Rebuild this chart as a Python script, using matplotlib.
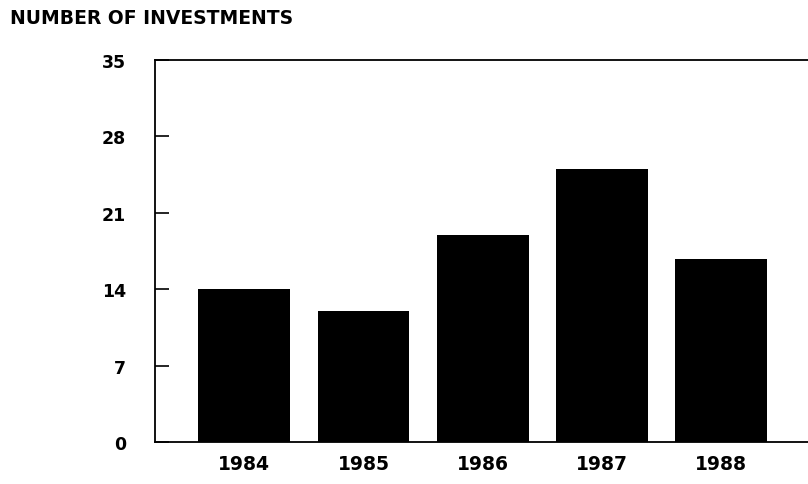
import matplotlib.pyplot as plt

# datos
anios = ['1984', '1985', '1986', '1987', '1988']
inversiones = [14, 12, 19, 25, 16.8]
marcas_y = [0, 7, 14, 21, 28, 35]

plt.rcParams['font.family'] = ['DejaVu Sans']

fig = plt.figure(figsize=(8.08, 4.85), dpi=100)
ax = fig.add_axes([155 / 808, 1 - 443 / 485, 1 - 155 / 808, 382 / 485])

x = range(len(anios))
ax.bar(x, inversiones, width=0.77, color='black')

ax.set_xlim(-0.75, 4.73)
ax.set_ylim(0, 35)
ax.set_yticks(marcas_y)
ax.set_yticklabels([str(v) for v in marcas_y], fontsize=12.5, fontweight='bold')
ax.set_xticks(list(x))
ax.set_xticklabels(anios, fontsize=13.5, fontweight='bold')

ax.spines['right'].set_visible(False)
for s in ['left', 'top', 'bottom']:
    ax.spines[s].set_linewidth(1.3)

ax.tick_params(axis='y', direction='in', length=10, width=1.2, pad=21)
ax.tick_params(axis='x', length=0, pad=9)
for lab in ax.get_yticklabels():
    lab.set_horizontalalignment('right')

fig.text(10 / 808, 1 - 19 / 485, 'NUMBER OF INVESTMENTS', fontsize=13.5,
         fontweight='bold', ha='left', va='center')

fig.savefig('out.png', dpi=100)
